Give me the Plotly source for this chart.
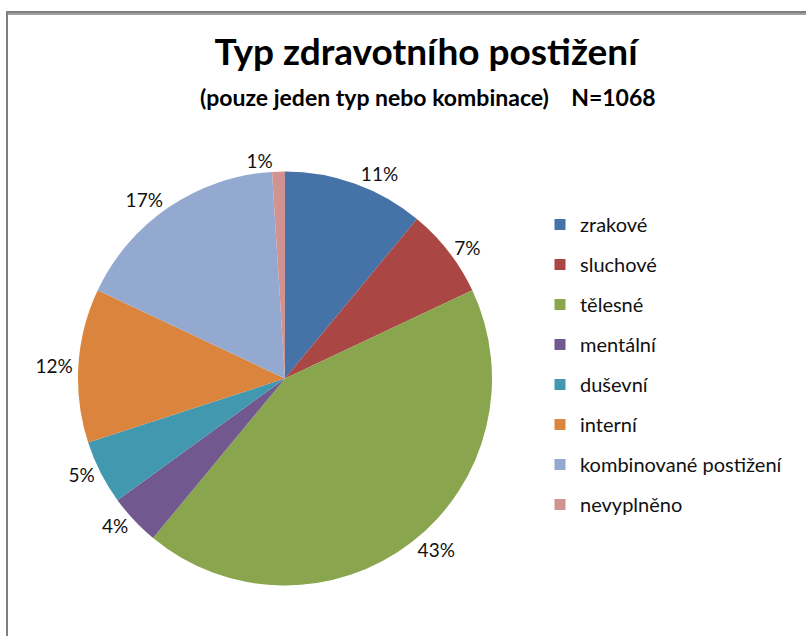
import plotly.graph_objects as go

categories = ["zrakové", "sluchové", "tělesné", "mentální", "duševní",
              "interní", "kombinované postižení", "nevyplněno"]
values = [11, 7, 43, 4, 5, 12, 17, 1]
colors = ["#4572A7", "#AA4643", "#89A54E", "#71588F", "#4198AF",
          "#DB843D", "#93A9CF", "#D19392"]
title_text = "Typ zdravotního postižení"
subtitle_text = "(pouze jeden typ nebo kombinace)&nbsp;&nbsp;&nbsp;&nbsp;N=1068"

W, H = 806, 636
FONT = "Lato, 'Open Sans', sans-serif"

fig = go.Figure()
fig.add_trace(go.Pie(
    labels=categories, values=values, sort=False, direction="clockwise",
    rotation=0, marker=dict(colors=colors, line=dict(width=0)),
    texttemplate="%{percent:.0%}", textposition="outside",
    outsidetextfont=dict(family=FONT, size=19, color="#111111"),
    showlegend=False, hoverinfo="label+percent",
    domain=dict(x=[78 / W, 492 / W], y=[1 - 586 / H, 1 - 171 / H]),
))

for i, (cat, col) in enumerate(zip(categories, colors)):
    fig.add_trace(go.Scatter(
        x=[None], y=[None], mode="markers", name=cat,
        legendgroup=f"g{i}",
        marker=dict(symbol="square", size=11, color=col),
    ))

frame_color = "#808080"
fig.update_layout(
    width=W, height=H,
    margin=dict(l=0, r=0, t=0, b=0),
    paper_bgcolor="white", plot_bgcolor="white",
    xaxis=dict(visible=False), yaxis=dict(visible=False),
    font=dict(family=FONT, color="#111111"),
    title=dict(text=f"<b>{title_text}</b>", x=426 / W, xanchor="center",
               y=1 - 52 / H, yanchor="middle", yref="container",
               font=dict(size=37, color="#000000", family=FONT)),
    annotations=[dict(text=f"<b>{subtitle_text}</b>", x=428 / W, y=1 - 97 / H,
                      xref="paper", yref="paper", xanchor="center",
                      yanchor="middle", showarrow=False,
                      font=dict(size=23, color="#000000", family=FONT))],
    legend=dict(x=540 / W, y=1 - 205 / H, xanchor="left", yanchor="top",
                font=dict(size=20, family=FONT, color="#111111"),
                tracegroupgap=11, itemsizing="trace", bgcolor="rgba(0,0,0,0)"),
    shapes=[
        dict(type="rect", xref="paper", yref="paper", layer="above",
             x0=7 / W, x1=1.05, y0=-0.05, y1=1 - 12 / H,
             fillcolor="rgba(0,0,0,0)",
             line=dict(color=frame_color, width=2)),
        dict(type="line", xref="paper", yref="paper", layer="above",
             x0=7 / W, x1=1.0, y0=1 - 14 / H, y1=1 - 14 / H,
             line=dict(color=frame_color, width=1.5)),
    ],
)

fig.write_html("out.html",
               config={"displayModeBar": False},
               post_script="document.body.style.margin='0';"
                           "document.body.style.overflow='hidden';")
